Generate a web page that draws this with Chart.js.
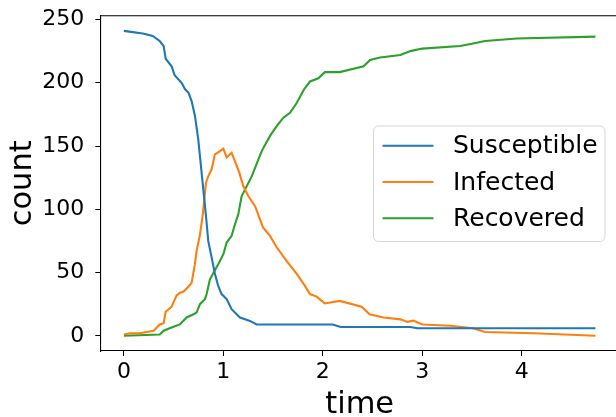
<!DOCTYPE html>
<html>
<head>
<meta charset="utf-8">
<script src="https://cdn.jsdelivr.net/npm/chart.js@4/dist/chart.umd.min.js"></script>
<style>
  html, body { margin: 0; padding: 0; background: #fff; overflow: hidden; }
  #wrap { position: relative; width: 620px; height: 417px; }
</style>
</head>
<body>
<div id="wrap"><canvas id="sirChart"></canvas></div>
<script>
// values (time, count)
var sTime  = [0, 0.09, 0.19, 0.29, 0.36, 0.40, 0.42, 0.48, 0.51, 0.58, 0.614, 0.65, 0.681, 0.714, 0.748, 0.771, 0.798, 0.825, 0.848, 0.882, 0.915, 0.948, 0.982, 1.033, 1.083, 1.167, 1.268, 1.335, 2.10, 2.18, 2.88, 2.95, 4.74];
var sCount = [241, 240, 239, 237, 233, 229, 219, 213, 206, 200, 195, 192, 185.5, 174, 155, 137, 116, 95, 75, 62, 49, 39.5, 33, 29, 21, 14.5, 11.8, 9, 9, 7, 7, 6, 6];

var iTime  = [0, 0.06, 0.16, 0.30, 0.36, 0.40, 0.42, 0.48, 0.53, 0.563, 0.60, 0.65, 0.681, 0.714, 0.731, 0.765, 0.795, 0.825, 0.848, 0.882, 0.915, 0.948, 1.0, 1.033, 1.083, 1.116, 1.16, 1.2, 1.25, 1.318, 1.368, 1.40, 1.469, 1.536, 1.637, 1.737, 1.82, 1.87, 1.937, 2.02, 2.17, 2.39, 2.47, 2.61, 2.78, 2.85, 2.91, 3.0, 3.28, 3.51, 3.63, 4.12, 4.74];
var iCount = [1, 2, 2, 4, 9, 10, 19, 23, 32, 34, 35, 39, 42, 56.6, 67, 80, 97, 121, 126, 131.6, 143.4, 145, 148, 141, 144.7, 138, 129, 118.4, 110.5, 102.6, 92, 85.5, 79, 70, 59, 49, 39.5, 33, 31, 25.6, 27.6, 23, 17, 14.5, 13, 11, 12, 9, 8, 6, 3, 2, 0];

var rTime  = [0, 0.36, 0.40, 0.46, 0.563, 0.631, 0.70, 0.731, 0.765, 0.815, 0.832, 0.865, 0.948, 1.0, 1.033, 1.083, 1.116, 1.15, 1.184, 1.285, 1.385, 1.469, 1.536, 1.603, 1.67, 1.737, 1.81, 1.871, 1.955, 2.02, 2.17, 2.41, 2.475, 2.575, 2.78, 2.88, 3.0, 3.38, 3.51, 3.63, 3.95, 4.74];
var rCount = [0, 1, 4, 6, 9, 14.5, 17, 18.4, 25, 29, 33, 44.7, 56.6, 64.5, 73.7, 79, 88, 96, 110.5, 126, 146, 158, 165.7, 172.4, 176.3, 184, 194.7, 201, 203.5, 208.4, 208.4, 213, 218, 220, 222, 225, 227, 229, 231, 233, 235, 236.5];

var seriesNames  = ['Susceptible', 'Infected', 'Recovered'];
var seriesColors = ['#1f77b4', '#ff7f0e', '#2ca02c'];

function toPoints(xs, ys) {
    return xs.map(function (x, i) { return { x: x, y: ys[i] }; });
}

// legend box drawn inside the axes, like matplotlib's "best" spot
var boxLegend = {
    id: 'boxLegend',
    afterDraw: function (chart) {
        var ctx = chart.ctx, a = chart.chartArea;
        ctx.save();
        // top spine
        ctx.strokeStyle = '#000';
        ctx.lineWidth = 1.1;
        ctx.beginPath();
        ctx.moveTo(a.left, a.top);
        ctx.lineTo(a.right, a.top);
        ctx.lineTo(a.right, a.bottom);
        ctx.stroke();

        var x = 373.5, y = 126, w = 231.5, h = 115.5, r = 5;
        ctx.beginPath();
        ctx.moveTo(x + r, y);
        ctx.arcTo(x + w, y, x + w, y + h, r);
        ctx.arcTo(x + w, y + h, x, y + h, r);
        ctx.arcTo(x, y + h, x, y, r);
        ctx.arcTo(x, y, x + w, y, r);
        ctx.closePath();
        ctx.fillStyle = 'rgba(255,255,255,0.8)';
        ctx.fill();
        ctx.strokeStyle = 'rgba(204,204,204,0.8)';
        ctx.lineWidth = 1;
        ctx.stroke();

        ctx.font = '25px "DejaVu Sans"';
        ctx.textBaseline = 'middle';
        ctx.textAlign = 'left';
        chart.data.datasets.forEach(function (ds, k) {
            var ry = 145.7 + k * 36.3;
            ctx.strokeStyle = ds.borderColor;
            ctx.lineWidth = 2.1;
            ctx.beginPath();
            ctx.moveTo(382.5, ry);
            ctx.lineTo(433.5, ry);
            ctx.stroke();
            ctx.fillStyle = '#000';
            ctx.fillText(ds.label, 453, ry + 1);
        });
        ctx.restore();
    }
};

var tickFilter = function (step) {
    return function (scale) {
        scale.ticks = scale.ticks.filter(function (t) {
            return Math.abs(t.value / step - Math.round(t.value / step)) < 1e-6;
        });
    };
};

Chart.defaults.font.family = '"DejaVu Sans"';
Chart.defaults.color = '#000';

var datasets = [
    toPoints(sTime, sCount),
    toPoints(iTime, iCount),
    toPoints(rTime, rCount)
].map(function (pts, k) {
    return {
        label: seriesNames[k],
        data: pts,
        borderColor: seriesColors[k],
        backgroundColor: seriesColors[k],
        borderWidth: 2.1,
        pointRadius: 0,
        tension: 0,
        fill: false
    };
});

new Chart(document.getElementById('sirChart'), {
    type: 'line',
    data: { datasets: datasets },
    options: {
        responsive: true,
        maintainAspectRatio: false,
        animation: false,
        layout: { padding: { top: 15.7, right: 1, left: 0, bottom: 0 } },
        plugins: { legend: { display: false }, tooltip: { enabled: false } },
        scales: {
            x: {
                type: 'linear',
                min: -0.237,
                max: 4.977,
                afterFit: function (scale) {
                    scale.height = 66;
                    scale.paddingLeft = 0; scale.paddingRight = 0;
                },
                afterBuildTicks: tickFilter(1),
                ticks: { stepSize: 1, includeBounds: false, font: { size: 22 }, padding: 3, maxRotation: 0 },
                grid: { drawOnChartArea: false, drawTicks: true, tickLength: 5, color: '#000', tickWidth: 1 },
                border: { display: true, color: '#000', width: 1.1 },
                title: { display: true, text: 'time', font: { size: 30.5, lineHeight: 0.8 }, padding: { top: 0, bottom: 0 } }
            },
            y: {
                type: 'linear',
                min: -12,
                max: 253,
                afterFit: function (scale) {
                    scale.width = 100.3;
                    scale.paddingTop = 0; scale.paddingBottom = 0;
                },
                afterBuildTicks: tickFilter(50),
                ticks: { stepSize: 50, includeBounds: false, font: { size: 22 }, padding: 11 },
                grid: { drawOnChartArea: false, drawTicks: true, tickLength: 5, color: '#000', tickWidth: 1 },
                border: { display: true, color: '#000', width: 1.1 },
                title: { display: true, text: 'count', font: { size: 30.5, lineHeight: 1.2 }, padding: { top: 5, bottom: 0 } }
            }
        }
    },
    plugins: [boxLegend]
});
</script>
</body>
</html>
